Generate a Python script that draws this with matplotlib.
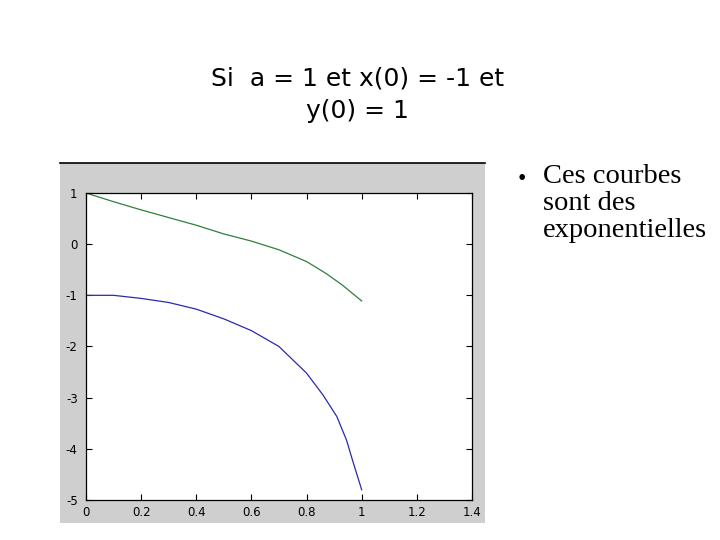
import matplotlib
matplotlib.use("Agg")
import matplotlib.pyplot as plt
from matplotlib.lines import Line2D

plt.rcParams["axes.unicode_minus"] = False

# data
t_x = [0, 0.1, 0.2, 0.3, 0.4, 0.5, 0.6, 0.7, 0.8, 0.86, 0.91, 0.945, 0.97, 1.0]
x_vals = [-1.0, -1.0, -1.06, -1.14, -1.27, -1.46, -1.69, -2.0, -2.52, -2.95,
          -3.37, -3.83, -4.28, -4.8]
t_y = [0, 0.1, 0.2, 0.3, 0.4, 0.5, 0.6, 0.7, 0.8, 0.87, 0.93, 1.0]
y_vals = [1.0, 0.83, 0.67, 0.52, 0.37, 0.2, 0.06, -0.11, -0.34, -0.57, -0.8, -1.11]

x_ticks = [0, 0.2, 0.4, 0.6, 0.8, 1, 1.2, 1.4]
x_labels = ["0", "0.2", "0.4", "0.6", "0.8", "1", "1.2", "1.4"]
y_ticks = [1, 0, -1, -2, -3, -4, -5]

title_lines = "Si  a = 1 et x(0) = -1 et\ny(0) = 1"
bullet_text = "Ces courbes\nsont des\nexponentielles"

fig = plt.figure(figsize=(7.2, 5.4), dpi=100)
fig.patch.set_facecolor("white")

# gray matlab figure window behind the axes
bg = fig.add_axes([0.0833, 0.0315, 0.5903, 0.6665])
bg.set_facecolor("#cfcfcf")
bg.set_xticks([])
bg.set_yticks([])
for s in bg.spines.values():
    s.set_visible(False)
fig.lines.append(Line2D([0.0833, 0.6736], [0.698, 0.698],
                        transform=fig.transFigure, color="black", lw=1.2))

ax = fig.add_axes([0.1194, 0.0741, 0.5361, 0.5685])
ax.set_zorder(2)
ax.set_facecolor("white")
ax.plot(t_y, y_vals, color="#2f7f3f", lw=0.9)
ax.plot(t_x, x_vals, color="#2a2ab0", lw=0.9)

ax.set_xlim(0, 1.4)
ax.set_ylim(-5, 1)
ax.set_xticks(x_ticks)
ax.set_xticklabels(x_labels)
ax.set_yticks(y_ticks)
ax.tick_params(direction="in", length=4, width=0.8, labelsize=8.5,
               top=True, right=True, colors="black")
ax.tick_params(axis="y", pad=6)
ax.tick_params(axis="x", pad=4)
for s in ax.spines.values():
    s.set_linewidth(0.9)

# slide title
fig.text(0.497, 0.824, title_lines, ha="center", va="center",
         fontsize=18, family="DejaVu Sans", linespacing=1.45)

# bullet on the right
fig.text(0.725, 0.668, "\u2022", ha="center", va="center",
         fontsize=17, family="Liberation Serif")
fig.text(0.754, 0.697, bullet_text, ha="left", va="top",
         fontsize=20.5, family="Liberation Serif", linespacing=1.12)

fig.savefig("out.png", dpi=100)
